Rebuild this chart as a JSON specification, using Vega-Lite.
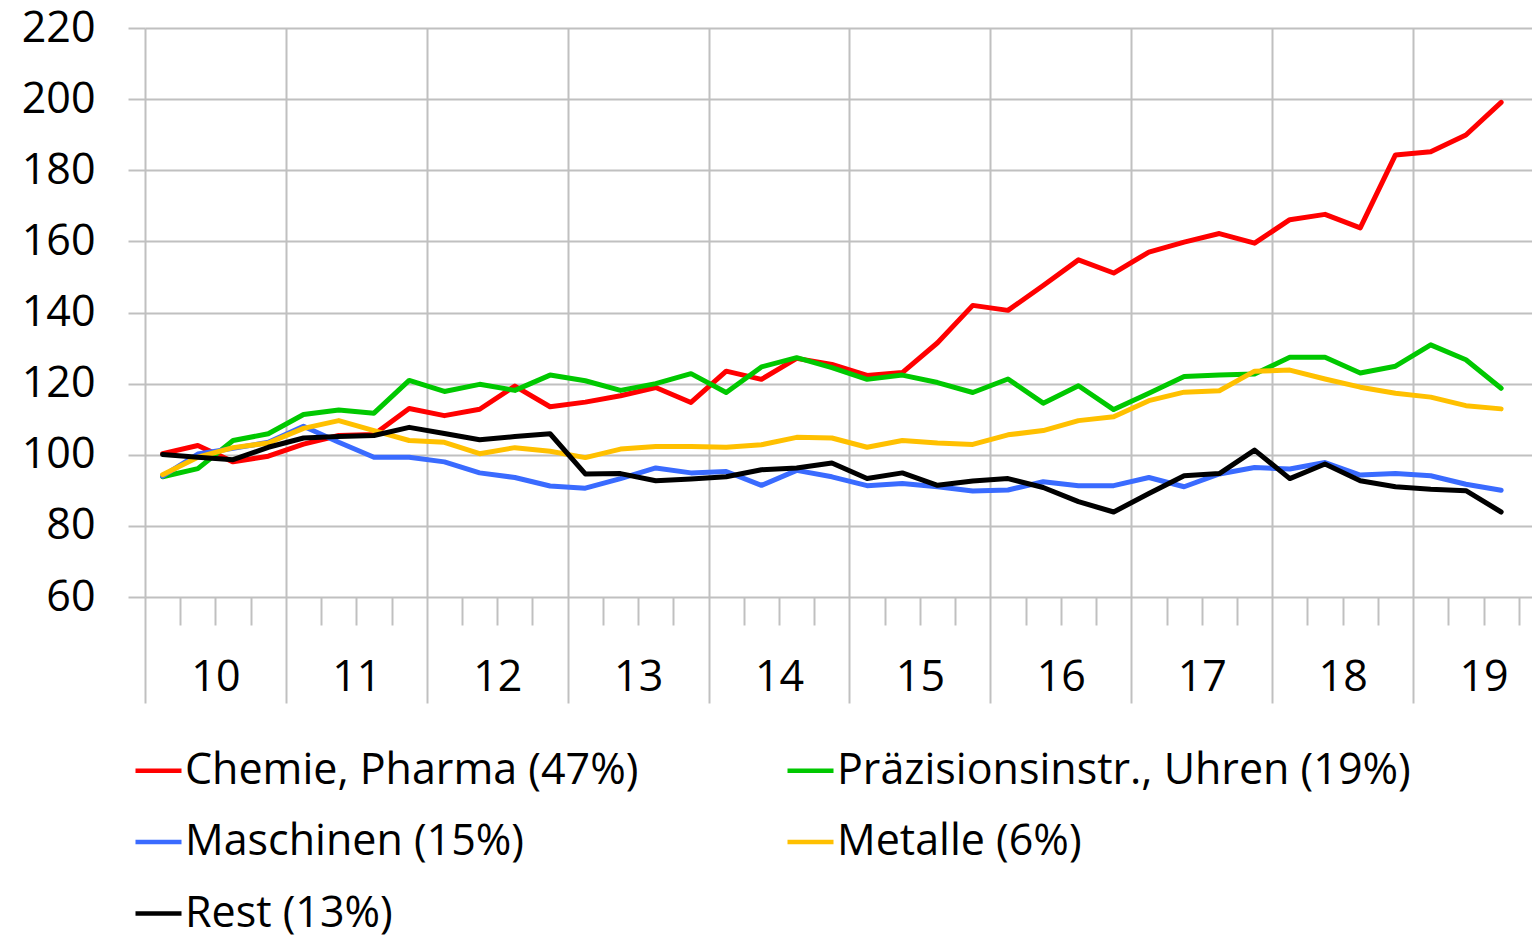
{
"$schema": "https://vega.github.io/schema/vega-lite/v6.json",
"width": 1387, "height": 569,
"autosize": {"type": "none"},
"padding": {"left": 145, "top": 28, "right": 0, "bottom": 338},
"background": "white",
"config": {"view": {"stroke": null}, "font": "Open Sans"},
"data": {"values": [
{"q":2010.125,"s":"Chemie, Pharma (47%)","v":100.3},{"q":2010.375,"s":"Chemie, Pharma (47%)","v":102.6},{"q":2010.625,"s":"Chemie, Pharma (47%)","v":98},{"q":2010.875,"s":"Chemie, Pharma (47%)","v":99.6},{"q":2011.125,"s":"Chemie, Pharma (47%)","v":103},{"q":2011.375,"s":"Chemie, Pharma (47%)","v":105.4},{"q":2011.625,"s":"Chemie, Pharma (47%)","v":105.7},{"q":2011.875,"s":"Chemie, Pharma (47%)","v":113},{"q":2012.125,"s":"Chemie, Pharma (47%)","v":111},{"q":2012.375,"s":"Chemie, Pharma (47%)","v":112.8},{"q":2012.625,"s":"Chemie, Pharma (47%)","v":119.3},{"q":2012.875,"s":"Chemie, Pharma (47%)","v":113.5},{"q":2013.125,"s":"Chemie, Pharma (47%)","v":114.8},{"q":2013.375,"s":"Chemie, Pharma (47%)","v":116.6},{"q":2013.625,"s":"Chemie, Pharma (47%)","v":118.9},{"q":2013.875,"s":"Chemie, Pharma (47%)","v":114.7},{"q":2014.125,"s":"Chemie, Pharma (47%)","v":123.5},{"q":2014.375,"s":"Chemie, Pharma (47%)","v":121.2},{"q":2014.625,"s":"Chemie, Pharma (47%)","v":127.1},{"q":2014.875,"s":"Chemie, Pharma (47%)","v":125.4},{"q":2015.125,"s":"Chemie, Pharma (47%)","v":122.3},{"q":2015.375,"s":"Chemie, Pharma (47%)","v":123.1},{"q":2015.625,"s":"Chemie, Pharma (47%)","v":131.5},{"q":2015.875,"s":"Chemie, Pharma (47%)","v":142},{"q":2016.125,"s":"Chemie, Pharma (47%)","v":140.6},{"q":2016.375,"s":"Chemie, Pharma (47%)","v":147.6},{"q":2016.625,"s":"Chemie, Pharma (47%)","v":154.8},{"q":2016.875,"s":"Chemie, Pharma (47%)","v":151.1},{"q":2017.125,"s":"Chemie, Pharma (47%)","v":157},{"q":2017.375,"s":"Chemie, Pharma (47%)","v":159.8},{"q":2017.625,"s":"Chemie, Pharma (47%)","v":162.2},{"q":2017.875,"s":"Chemie, Pharma (47%)","v":159.5},{"q":2018.125,"s":"Chemie, Pharma (47%)","v":166.1},{"q":2018.375,"s":"Chemie, Pharma (47%)","v":167.6},{"q":2018.625,"s":"Chemie, Pharma (47%)","v":163.8},{"q":2018.875,"s":"Chemie, Pharma (47%)","v":184.3},{"q":2019.125,"s":"Chemie, Pharma (47%)","v":185.2},{"q":2019.375,"s":"Chemie, Pharma (47%)","v":189.9},{"q":2019.625,"s":"Chemie, Pharma (47%)","v":199.1},
{"q":2010.125,"s":"Präzisionsinstr., Uhren (19%)","v":93.8},{"q":2010.375,"s":"Präzisionsinstr., Uhren (19%)","v":96.1},{"q":2010.625,"s":"Präzisionsinstr., Uhren (19%)","v":104},{"q":2010.875,"s":"Präzisionsinstr., Uhren (19%)","v":105.9},{"q":2011.125,"s":"Präzisionsinstr., Uhren (19%)","v":111.3},{"q":2011.375,"s":"Präzisionsinstr., Uhren (19%)","v":112.6},{"q":2011.625,"s":"Präzisionsinstr., Uhren (19%)","v":111.7},{"q":2011.875,"s":"Präzisionsinstr., Uhren (19%)","v":120.9},{"q":2012.125,"s":"Präzisionsinstr., Uhren (19%)","v":117.8},{"q":2012.375,"s":"Präzisionsinstr., Uhren (19%)","v":119.8},{"q":2012.625,"s":"Präzisionsinstr., Uhren (19%)","v":118.1},{"q":2012.875,"s":"Präzisionsinstr., Uhren (19%)","v":122.4},{"q":2013.125,"s":"Präzisionsinstr., Uhren (19%)","v":120.8},{"q":2013.375,"s":"Präzisionsinstr., Uhren (19%)","v":118.1},{"q":2013.625,"s":"Präzisionsinstr., Uhren (19%)","v":120},{"q":2013.875,"s":"Präzisionsinstr., Uhren (19%)","v":122.8},{"q":2014.125,"s":"Präzisionsinstr., Uhren (19%)","v":117.5},{"q":2014.375,"s":"Präzisionsinstr., Uhren (19%)","v":124.7},{"q":2014.625,"s":"Präzisionsinstr., Uhren (19%)","v":127.3},{"q":2014.875,"s":"Präzisionsinstr., Uhren (19%)","v":124.5},{"q":2015.125,"s":"Präzisionsinstr., Uhren (19%)","v":121.2},{"q":2015.375,"s":"Präzisionsinstr., Uhren (19%)","v":122.4},{"q":2015.625,"s":"Präzisionsinstr., Uhren (19%)","v":120.3},{"q":2015.875,"s":"Präzisionsinstr., Uhren (19%)","v":117.5},{"q":2016.125,"s":"Präzisionsinstr., Uhren (19%)","v":121.3},{"q":2016.375,"s":"Präzisionsinstr., Uhren (19%)","v":114.5},{"q":2016.625,"s":"Präzisionsinstr., Uhren (19%)","v":119.4},{"q":2016.875,"s":"Präzisionsinstr., Uhren (19%)","v":112.7},{"q":2017.125,"s":"Präzisionsinstr., Uhren (19%)","v":117.3},{"q":2017.375,"s":"Präzisionsinstr., Uhren (19%)","v":122},{"q":2017.625,"s":"Präzisionsinstr., Uhren (19%)","v":122.4},{"q":2017.875,"s":"Präzisionsinstr., Uhren (19%)","v":122.7},{"q":2018.125,"s":"Präzisionsinstr., Uhren (19%)","v":127.4},{"q":2018.375,"s":"Präzisionsinstr., Uhren (19%)","v":127.4},{"q":2018.625,"s":"Präzisionsinstr., Uhren (19%)","v":123},{"q":2018.875,"s":"Präzisionsinstr., Uhren (19%)","v":124.9},{"q":2019.125,"s":"Präzisionsinstr., Uhren (19%)","v":130.9},{"q":2019.375,"s":"Präzisionsinstr., Uhren (19%)","v":126.7},{"q":2019.625,"s":"Präzisionsinstr., Uhren (19%)","v":118.7},
{"q":2010.125,"s":"Maschinen (15%)","v":94},{"q":2010.375,"s":"Maschinen (15%)","v":100.2},{"q":2010.625,"s":"Maschinen (15%)","v":101.8},{"q":2010.875,"s":"Maschinen (15%)","v":103.5},{"q":2011.125,"s":"Maschinen (15%)","v":108},{"q":2011.375,"s":"Maschinen (15%)","v":103.5},{"q":2011.625,"s":"Maschinen (15%)","v":99.3},{"q":2011.875,"s":"Maschinen (15%)","v":99.3},{"q":2012.125,"s":"Maschinen (15%)","v":98},{"q":2012.375,"s":"Maschinen (15%)","v":94.9},{"q":2012.625,"s":"Maschinen (15%)","v":93.6},{"q":2012.875,"s":"Maschinen (15%)","v":91.2},{"q":2013.125,"s":"Maschinen (15%)","v":90.6},{"q":2013.375,"s":"Maschinen (15%)","v":93.3},{"q":2013.625,"s":"Maschinen (15%)","v":96.3},{"q":2013.875,"s":"Maschinen (15%)","v":94.9},{"q":2014.125,"s":"Maschinen (15%)","v":95.3},{"q":2014.375,"s":"Maschinen (15%)","v":91.4},{"q":2014.625,"s":"Maschinen (15%)","v":95.6},{"q":2014.875,"s":"Maschinen (15%)","v":93.8},{"q":2015.125,"s":"Maschinen (15%)","v":91.3},{"q":2015.375,"s":"Maschinen (15%)","v":91.9},{"q":2015.625,"s":"Maschinen (15%)","v":91},{"q":2015.875,"s":"Maschinen (15%)","v":89.8},{"q":2016.125,"s":"Maschinen (15%)","v":90.1},{"q":2016.375,"s":"Maschinen (15%)","v":92.4},{"q":2016.625,"s":"Maschinen (15%)","v":91.3},{"q":2016.875,"s":"Maschinen (15%)","v":91.3},{"q":2017.125,"s":"Maschinen (15%)","v":93.6},{"q":2017.375,"s":"Maschinen (15%)","v":91},{"q":2017.625,"s":"Maschinen (15%)","v":94.6},{"q":2017.875,"s":"Maschinen (15%)","v":96.4},{"q":2018.125,"s":"Maschinen (15%)","v":96},{"q":2018.375,"s":"Maschinen (15%)","v":97.8},{"q":2018.625,"s":"Maschinen (15%)","v":94.3},{"q":2018.875,"s":"Maschinen (15%)","v":94.7},{"q":2019.125,"s":"Maschinen (15%)","v":94.1},{"q":2019.375,"s":"Maschinen (15%)","v":91.7},{"q":2019.625,"s":"Maschinen (15%)","v":90},
{"q":2010.125,"s":"Metalle (6%)","v":94.4},{"q":2010.375,"s":"Metalle (6%)","v":99.3},{"q":2010.625,"s":"Metalle (6%)","v":102},{"q":2010.875,"s":"Metalle (6%)","v":103.3},{"q":2011.125,"s":"Metalle (6%)","v":107.4},{"q":2011.375,"s":"Metalle (6%)","v":109.6},{"q":2011.625,"s":"Metalle (6%)","v":106.8},{"q":2011.875,"s":"Metalle (6%)","v":104},{"q":2012.125,"s":"Metalle (6%)","v":103.5},{"q":2012.375,"s":"Metalle (6%)","v":100.3},{"q":2012.625,"s":"Metalle (6%)","v":102},{"q":2012.875,"s":"Metalle (6%)","v":101},{"q":2013.125,"s":"Metalle (6%)","v":99.2},{"q":2013.375,"s":"Metalle (6%)","v":101.6},{"q":2013.625,"s":"Metalle (6%)","v":102.3},{"q":2013.875,"s":"Metalle (6%)","v":102.3},{"q":2014.125,"s":"Metalle (6%)","v":102.1},{"q":2014.375,"s":"Metalle (6%)","v":102.8},{"q":2014.625,"s":"Metalle (6%)","v":104.9},{"q":2014.875,"s":"Metalle (6%)","v":104.7},{"q":2015.125,"s":"Metalle (6%)","v":102.1},{"q":2015.375,"s":"Metalle (6%)","v":104},{"q":2015.625,"s":"Metalle (6%)","v":103.3},{"q":2015.875,"s":"Metalle (6%)","v":102.9},{"q":2016.125,"s":"Metalle (6%)","v":105.6},{"q":2016.375,"s":"Metalle (6%)","v":106.8},{"q":2016.625,"s":"Metalle (6%)","v":109.6},{"q":2016.875,"s":"Metalle (6%)","v":110.7},{"q":2017.125,"s":"Metalle (6%)","v":115.2},{"q":2017.375,"s":"Metalle (6%)","v":117.6},{"q":2017.625,"s":"Metalle (6%)","v":118},{"q":2017.875,"s":"Metalle (6%)","v":123.5},{"q":2018.125,"s":"Metalle (6%)","v":123.8},{"q":2018.375,"s":"Metalle (6%)","v":121.3},{"q":2018.625,"s":"Metalle (6%)","v":119},{"q":2018.875,"s":"Metalle (6%)","v":117.3},{"q":2019.125,"s":"Metalle (6%)","v":116.2},{"q":2019.375,"s":"Metalle (6%)","v":113.8},{"q":2019.625,"s":"Metalle (6%)","v":112.9},
{"q":2010.125,"s":"Rest (13%)","v":100.1},{"q":2010.375,"s":"Rest (13%)","v":99.3},{"q":2010.625,"s":"Rest (13%)","v":98.6},{"q":2010.875,"s":"Rest (13%)","v":102.1},{"q":2011.125,"s":"Rest (13%)","v":104.7},{"q":2011.375,"s":"Rest (13%)","v":105.1},{"q":2011.625,"s":"Rest (13%)","v":105.4},{"q":2011.875,"s":"Rest (13%)","v":107.7},{"q":2012.125,"s":"Rest (13%)","v":106},{"q":2012.375,"s":"Rest (13%)","v":104.2},{"q":2012.625,"s":"Rest (13%)","v":105.1},{"q":2012.875,"s":"Rest (13%)","v":105.9},{"q":2013.125,"s":"Rest (13%)","v":94.6},{"q":2013.375,"s":"Rest (13%)","v":94.7},{"q":2013.625,"s":"Rest (13%)","v":92.7},{"q":2013.875,"s":"Rest (13%)","v":93.2},{"q":2014.125,"s":"Rest (13%)","v":93.8},{"q":2014.375,"s":"Rest (13%)","v":95.8},{"q":2014.625,"s":"Rest (13%)","v":96.3},{"q":2014.875,"s":"Rest (13%)","v":97.7},{"q":2015.125,"s":"Rest (13%)","v":93.3},{"q":2015.375,"s":"Rest (13%)","v":94.9},{"q":2015.625,"s":"Rest (13%)","v":91.4},{"q":2015.875,"s":"Rest (13%)","v":92.6},{"q":2016.125,"s":"Rest (13%)","v":93.3},{"q":2016.375,"s":"Rest (13%)","v":90.8},{"q":2016.625,"s":"Rest (13%)","v":86.8},{"q":2016.875,"s":"Rest (13%)","v":83.9},{"q":2017.125,"s":"Rest (13%)","v":89.1},{"q":2017.375,"s":"Rest (13%)","v":94.1},{"q":2017.625,"s":"Rest (13%)","v":94.7},{"q":2017.875,"s":"Rest (13%)","v":101.3},{"q":2018.125,"s":"Rest (13%)","v":93.3},{"q":2018.375,"s":"Rest (13%)","v":97.4},{"q":2018.625,"s":"Rest (13%)","v":92.7},{"q":2018.875,"s":"Rest (13%)","v":91},{"q":2019.125,"s":"Rest (13%)","v":90.3},{"q":2019.375,"s":"Rest (13%)","v":89.9},{"q":2019.625,"s":"Rest (13%)","v":83.9}
]},
"layer": [
{"mark": {"type": "line", "strokeWidth": 5, "strokeJoin": "round", "strokeCap": "round"},
 "encoding": {
  "x": {"field": "q", "type": "quantitative",
        "scale": {"domain": [2010, 2019.844], "nice": false, "zero": false},
        "axis": {"orient": "bottom", "values": [2010,2011,2012,2013,2014,2015,2016,2017,2018,2019], "title": null, "domain": false, "labels": false,
                 "grid": true, "gridColor": "#c0c0c0", "gridWidth": 2,
                 "ticks": true, "tickSize": 106, "tickColor": "#c0c0c0", "tickWidth": 2}},
  "y": {"field": "v", "type": "quantitative",
        "scale": {"domain": [60, 220], "nice": false, "zero": false},
        "axis": {"values": [60,80,100,120,140,160,180,200,220], "title": null, "domain": false,
                 "grid": true, "gridColor": "#c0c0c0", "gridWidth": 2,
                 "ticks": true, "tickSize": 17, "tickColor": "#c0c0c0", "tickWidth": 2,
                 "labelFont": "Open Sans", "labelFontSize": 43, "labelColor": "#000000", "labelPadding": 33}},
  "color": {"field": "s", "type": "nominal",
        "scale": {"domain": ["Chemie, Pharma (47%)", "Präzisionsinstr., Uhren (19%)", "Maschinen (15%)", "Metalle (6%)", "Rest (13%)"],
                  "range": ["#ff0000", "#00c800", "#3a6bff", "#ffc000", "#000000"]},
        "legend": {"title": null, "orient": "none", "legendX": -12, "legendY": 717, "columns": 2, "direction": "horizontal",
                   "symbolType": "stroke", "symbolSize": 2116, "symbolStrokeWidth": 4.5,
                   "labelFont": "Open Sans", "labelFontSize": 43, "labelColor": "#000000", "labelLimit": 2000, "labelOffset": 1,
                   "columnPadding": 139, "rowPadding": 23.5}}
 }},
{"mark": {"type": "point", "opacity": 0},
 "encoding": {
  "x": {"field": "q", "type": "quantitative",
        "axis": {"orient": "bottom", "values": [2010.25,2010.5,2010.75,2011.25,2011.5,2011.75,2012.25,2012.5,2012.75,2013.25,2013.5,2013.75,2014.25,2014.5,2014.75,2015.25,2015.5,2015.75,2016.25,2016.5,2016.75,2017.25,2017.5,2017.75,2018.25,2018.5,2018.75,2019.25,2019.5,2019.75],
                 "title": null, "domain": false, "labels": false, "grid": false,
                 "ticks": true, "tickSize": 28, "tickColor": "#c0c0c0", "tickWidth": 2}}
 }},
{"mark": {"type": "point", "opacity": 0},
 "encoding": {
  "x": {"field": "q", "type": "quantitative",
        "axis": {"orient": "bottom", "values": [2010,2011,2012,2013,2014,2015,2016,2017,2018,2019],
                 "title": null, "domain": false, "grid": false, "ticks": false,
                 "labels": true, "labelExpr": "format(datum.value - 2000, 'd')",
                 "labelOffset": 70.45, "labelPadding": 93, "labelBaseline": "alphabetic",
                 "labelFont": "Open Sans", "labelFontSize": 43, "labelColor": "#000000",
                 "labelFlush": false, "labelOverlap": false, "labelBound": false}}
 }}
],
"resolve": {"axis": {"x": "independent"}}
}
